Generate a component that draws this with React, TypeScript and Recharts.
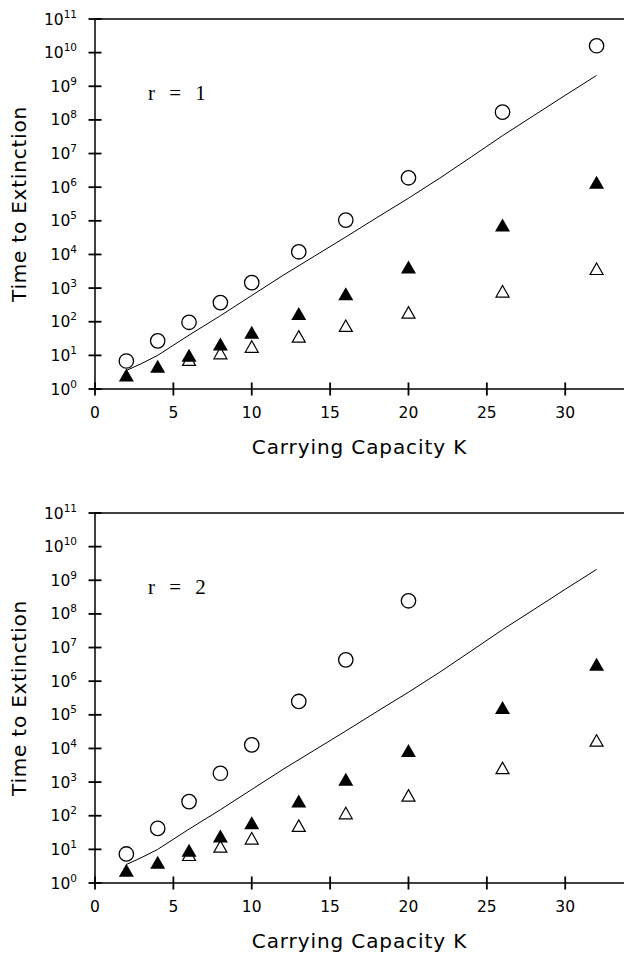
import {
  ScatterChart,
  Scatter,
  XAxis,
  YAxis,
  ReferenceLine,
  Label,
} from "recharts";

// carrying capacity values where simulations were run
const K_FILLED = [2, 4, 6, 8, 10, 13, 16, 20, 26, 32];
const K_OPEN = [6, 8, 10, 13, 16, 20, 26, 32];
const K_CIRCLE_R1 = [2, 4, 6, 8, 10, 13, 16, 20, 26, 32];
const K_CIRCLE_R2 = [2, 4, 6, 8, 10, 13, 16, 20];

// r = 1
const R1_CIRCLES = [6.8, 27, 96, 370, 1450, 12000, 1.05e5, 1.9e6, 1.7e8, 1.6e10];
const R1_FILLED = [2.5, 4.6, 9.8, 21, 47, 170, 660, 4100, 7.2e4, 1.35e6];
const R1_OPEN = [7.3, 11.5, 18, 36, 75, 186, 790, 3700];

// r = 2
const R2_CIRCLES = [7.3, 42, 263, 1830, 12800, 2.5e5, 4.3e6, 2.45e8];
const R2_FILLED = [2.3, 4, 9.1, 24, 60, 263, 1170, 8400, 1.6e5, 3.1e6];
const R2_OPEN = [6.8, 12, 21, 50, 118, 396, 2600, 17000];

// approximation curve (same in both panels)
const CURVE_K = [2, 3, 4, 6, 8, 10, 12, 14, 16, 18, 20, 22, 24, 26, 28, 30, 32];
const CURVE_T = [
  3.55, 5.8, 10, 40, 151, 603, 2400, 8900, 3.3e4, 1.26e5, 4.7e5, 1.86e6, 7.9e6,
  3.4e7, 1.35e8, 5.4e8, 2.1e9,
];

const X_TICKS = [0, 5, 10, 15, 20, 25, 30];
const Y_TICKS = [1, 10, 1e2, 1e3, 1e4, 1e5, 1e6, 1e7, 1e8, 1e9, 1e10, 1e11];

const FONT = "'DejaVu Sans', sans-serif";

const pts = (ks: number[], ts: number[]) => ks.map((k, i) => ({ k, t: ts[i] }));

// tick label plus a "+" mark crossing the axis
function YTick(props: any) {
  const x = Number(props.x);
  const y = Number(props.y);
  const exp = Math.round(Math.log10(props.payload.value));
  return (
    <g>
      <rect x={x - 6.5} y={y - 0.9} width={13} height={1.8} fill="#000" />
      <text x={x - 18} y={y + 5.5} textAnchor="end" fontFamily={FONT} fontSize={15.5} fill="#000">
        10
        <tspan dy={-7} fontSize={10.5}>
          {exp}
        </tspan>
      </text>
    </g>
  );
}

function XTick(props: any) {
  const x = Number(props.x);
  const y = Number(props.y);
  return (
    <g>
      <rect x={x - 0.9} y={y - 6.5} width={1.8} height={13} fill="#000" />
      <text x={x} y={y + 29} textAnchor="middle" fontFamily={FONT} fontSize={15.5} fill="#000">
        {props.payload.value}
      </text>
    </g>
  );
}

const Circle = ({ cx, cy }: any) => (
  <circle cx={cx} cy={cy} r={7.2} fill="#fff" stroke="#000" strokeWidth={1.3} />
);
const FilledTri = ({ cx, cy }: any) => (
  <path d={`M${cx},${cy - 7} L${cx + 7.5},${cy + 6} L${cx - 7.5},${cy + 6} Z`} fill="#000" />
);
const OpenTri = ({ cx, cy }: any) => (
  <path
    d={`M${cx},${cy - 6} L${cx + 6.5},${cy + 5.5} L${cx - 6.5},${cy + 5.5} Z`}
    fill="#fff"
    stroke="#000"
    strokeWidth={1.2}
  />
);
const NoDot = () => <g />;

interface PanelProps {
  label: string;
  circles: { k: number; t: number }[];
  filled: { k: number; t: number }[];
  open: { k: number; t: number }[];
}

function Panel({ label, circles, filled, open }: PanelProps) {
  return (
    <ScatterChart width={624} height={470} margin={{ top: 19, right: 0, bottom: 0, left: 0 }}>
      <XAxis
        type="number"
        dataKey="k"
        domain={[0, 33.75]}
        ticks={X_TICKS}
        allowDataOverflow
        height={81}
        tickSize={0}
        tickMargin={0}
        tickLine={false}
        axisLine={{ stroke: "#000", strokeWidth: 1.5 }}
        tick={(p: any) => <XTick {...p} />}
      >
        <Label
          content={({ viewBox }: any) => (
            <text
              x={viewBox.x + viewBox.width / 2}
              y={viewBox.y + 65}
              textAnchor="middle"
              fontFamily={FONT}
              fontSize={20}
              letterSpacing={0.9}
              fill="#000"
            >
              Carrying Capacity K
            </text>
          )}
        />
      </XAxis>
      <YAxis
        type="number"
        dataKey="t"
        scale="log"
        domain={[1, 1e11]}
        ticks={Y_TICKS}
        allowDataOverflow
        width={95}
        tickSize={0}
        tickMargin={0}
        tickLine={false}
        axisLine={{ stroke: "#000", strokeWidth: 1.5 }}
        tick={(p: any) => <YTick {...p} />}
      >
        <Label
          content={({ viewBox }: any) => {
            const cx = viewBox.x + 26;
            const cy = viewBox.y + viewBox.height / 2;
            return (
              <text
                x={cx}
                y={cy}
                transform={`rotate(-90 ${cx} ${cy})`}
                textAnchor="middle"
                fontFamily={FONT}
                fontSize={20}
                letterSpacing={0.8}
                fill="#000"
              >
                Time to Extinction
              </text>
            );
          }}
        />
      </YAxis>
      <ReferenceLine
        y={1e11}
        stroke="#000"
        strokeWidth={1.5}
        label={
          <Label
            content={({ viewBox }: any) => (
              <text
                x={viewBox.x + 53}
                y={viewBox.y + 81}
                fontFamily="'Liberation Serif', serif"
                fontSize={21}
                wordSpacing={9}
                fill="#000"
              >
                {label}
              </text>
            )}
          />
        }
      />
      <Scatter
        data={pts(CURVE_K, CURVE_T)}
        line={{ stroke: "#000", strokeWidth: 1 }}
        lineType="joint"
        shape={<NoDot />}
        isAnimationActive={false}
      />
      <Scatter data={open} shape={<OpenTri />} isAnimationActive={false} />
      <Scatter data={filled} shape={<FilledTri />} isAnimationActive={false} />
      <Scatter data={circles} shape={<Circle />} isAnimationActive={false} />
    </ScatterChart>
  );
}

export default function App() {
  return (
    <div style={{ position: "absolute", left: 0, top: 0, width: 624, height: 960, background: "#fff", overflow: "hidden" }}>
      <div style={{ height: 494 }}>
        <Panel
          label="r = 1"
          circles={pts(K_CIRCLE_R1, R1_CIRCLES)}
          filled={pts(K_FILLED, R1_FILLED)}
          open={pts(K_OPEN, R1_OPEN)}
        />
      </div>
      <div style={{ height: 466 }}>
        <Panel
          label="r = 2"
          circles={pts(K_CIRCLE_R2, R2_CIRCLES)}
          filled={pts(K_FILLED, R2_FILLED)}
          open={pts(K_OPEN, R2_OPEN)}
        />
      </div>
    </div>
  );
}
